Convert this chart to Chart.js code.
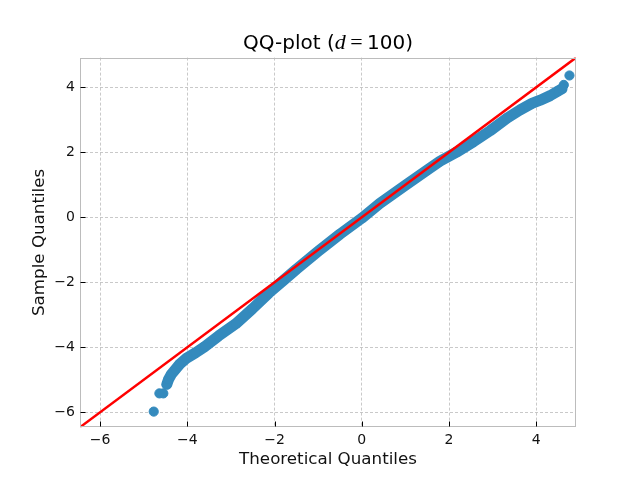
<!DOCTYPE html>
<html>
<head>
<meta charset="utf-8">
<script src="https://cdn.jsdelivr.net/npm/chart.js@4.4.1/dist/chart.umd.min.js"></script>
<style>
  html, body { margin: 0; padding: 0; background: #fff; }
  #wrap { width: 640px; height: 480px; }
</style>
</head>
<body>
<div id="wrap"><canvas id="qq" width="640" height="480"></canvas></div>
<script>
// same range on both axes, the 45 degree line runs corner to corner
const axisMin = -6.46;
const axisMax = 4.91;

const tickValues = [-6, -4, -2, 0, 2, 4];
const tickLabels = ['\u22126', '\u22124', '\u22122', '0', '2', '4'];

// sample quantiles, read along the dense band
const bodyX = [-4.47, -4.43, -4.37, -4.27, -4.18, -4.01, -3.81, -3.60, -3.28, -2.89, -2.51, -2.13, -1.82,
  -1.50, -1.00, -0.50, 0.00, 0.41, 1.00, 1.50, 1.79, 2.17, 2.56, 2.94, 3.33, 3.63, 3.90, 4.09, 4.32, 4.51, 4.59];
const bodyY = [-5.14, -4.99, -4.84, -4.68, -4.53, -4.33, -4.17, -3.98, -3.65, -3.28, -2.82, -2.33, -1.97,
  -1.60, -1.05, -0.52, -0.03, 0.42, 0.98, 1.45, 1.72, 2.00, 2.32, 2.66, 3.05, 3.30, 3.50, 3.60, 3.74, 3.89, 3.95];

// loose points at both tails
const tailX = [-4.77, -4.64, -4.55, 4.63, 4.76];
const tailY = [-5.98, -5.42, -5.42, 4.07, 4.36];

// reference line y = x
const refX = [axisMin, axisMax];
const refY = [axisMin, axisMax];

const blue = '#348abd';

function pts(xs, ys) {
  return xs.map((x, i) => ({ x: x, y: ys[i] }));
}

// spines on all four sides + inward tick marks
const frameAndTicks = {
  id: 'frameAndTicks',
  afterDatasetsDraw(chart) {
    const { ctx, chartArea: a, scales } = chart;
    ctx.save();
    ctx.strokeStyle = '#bcbcbc';
    ctx.lineWidth = 1;
    const l = Math.round(a.left) + 0.5, t = Math.round(a.top) + 0.5;
    const r = Math.round(a.right) - 0.5, b = Math.round(a.bottom) - 0.5;
    ctx.strokeRect(l, t, r - l, b - t);

    ctx.strokeStyle = '#000';
    ctx.lineWidth = 1;
    ctx.beginPath();
    tickValues.forEach(v => {
      const px = Math.round(scales.x.getPixelForValue(v)) + 0.5;
      ctx.moveTo(px, b);
      ctx.lineTo(px, b - 5);
      const py = Math.round(scales.y.getPixelForValue(v)) + 0.5;
      ctx.moveTo(l, py);
      ctx.lineTo(l + 5, py);
    });
    ctx.stroke();
    ctx.restore();
  }
};

// title with an italic math "d"
const mixedTitle = {
  id: 'mixedTitle',
  afterDraw(chart) {
    const { ctx, chartArea: a } = chart;
    const parts = [
      { text: 'QQ-plot (', font: '20px "DejaVu Sans"' },
      { text: 'd', font: 'italic 22px "Liberation Serif"' },
      { text: '\u2009=\u2009', font: '22px "Liberation Serif"' },
      { text: '100)', font: '20px "DejaVu Sans"' }
    ];
    ctx.save();
    let total = 0;
    parts.forEach(p => { ctx.font = p.font; p.w = ctx.measureText(p.text).width; total += p.w; });
    let x = (a.left + a.right) / 2 - total / 2;
    ctx.fillStyle = '#000';
    ctx.textBaseline = 'alphabetic';
    ctx.textAlign = 'left';
    parts.forEach(p => { ctx.font = p.font; ctx.fillText(p.text, x, a.top - 8.3); x += p.w; });
    ctx.restore();
  }
};

const tickFont = { family: 'DejaVu Sans', size: 14 };
const labelFont = { family: 'DejaVu Sans', size: 16.7 };

function axis(extra) {
  return Object.assign({
    type: 'linear',
    min: axisMin,
    max: axisMax,
    afterBuildTicks: s => { s.ticks = tickValues.map(v => ({ value: v })); },
    grid: { color: '#b2b2b2', lineWidth: 0.7, drawTicks: false },
    border: { display: false, dash: [3, 2] },
    ticks: {
      color: '#111',
      font: tickFont,
      padding: 5,
      autoSkip: false,
      maxRotation: 0,
      callback: (v, i) => tickLabels[i]
    }
  }, extra);
}

new Chart(document.getElementById('qq').getContext('2d'), {
  type: 'scatter',
  data: {
    datasets: [
      {
        label: 'ref',
        data: pts(refX, refY),
        showLine: true,
        borderColor: '#ff0000',
        borderWidth: 2.5,
        pointRadius: 0,
        clip: 0,
        order: 0
      },
      {
        label: 'body',
        data: pts(bodyX, bodyY),
        showLine: true,
        borderColor: blue,
        backgroundColor: blue,
        borderWidth: 11,
        borderCapStyle: 'round',
        borderJoinStyle: 'round',
        pointRadius: 4.6,
        pointBorderWidth: 1,
        pointBorderColor: blue,
        order: 1
      },
      {
        label: 'tails',
        data: pts(tailX, tailY),
        backgroundColor: blue,
        borderColor: blue,
        pointRadius: 4.6,
        pointBorderWidth: 1,
        order: 1
      }
    ]
  },
  options: {
    responsive: false,
    animation: false,
    devicePixelRatio: 1,
    layout: { padding: { left: 0, right: 64, top: 57.6, bottom: 0 } },
    plugins: {
      legend: { display: false },
      tooltip: { enabled: false },
      title: { display: false }
    },
    scales: {
      x: axis({
        afterFit: s => { s.height = 52.8; },
        title: {
          display: true,
          text: 'Theoretical Quantiles',
          color: '#111',
          font: labelFont,
          padding: { top: 0, bottom: 10 }
        }
      }),
      y: axis({
        afterFit: s => { s.width = 80; },
        title: {
          display: true,
          text: 'Sample Quantiles',
          color: '#111',
          font: labelFont,
          padding: { top: 30, bottom: 0 }
        }
      })
    }
  },
  plugins: [frameAndTicks, mixedTitle]
});
</script>
</body>
</html>
